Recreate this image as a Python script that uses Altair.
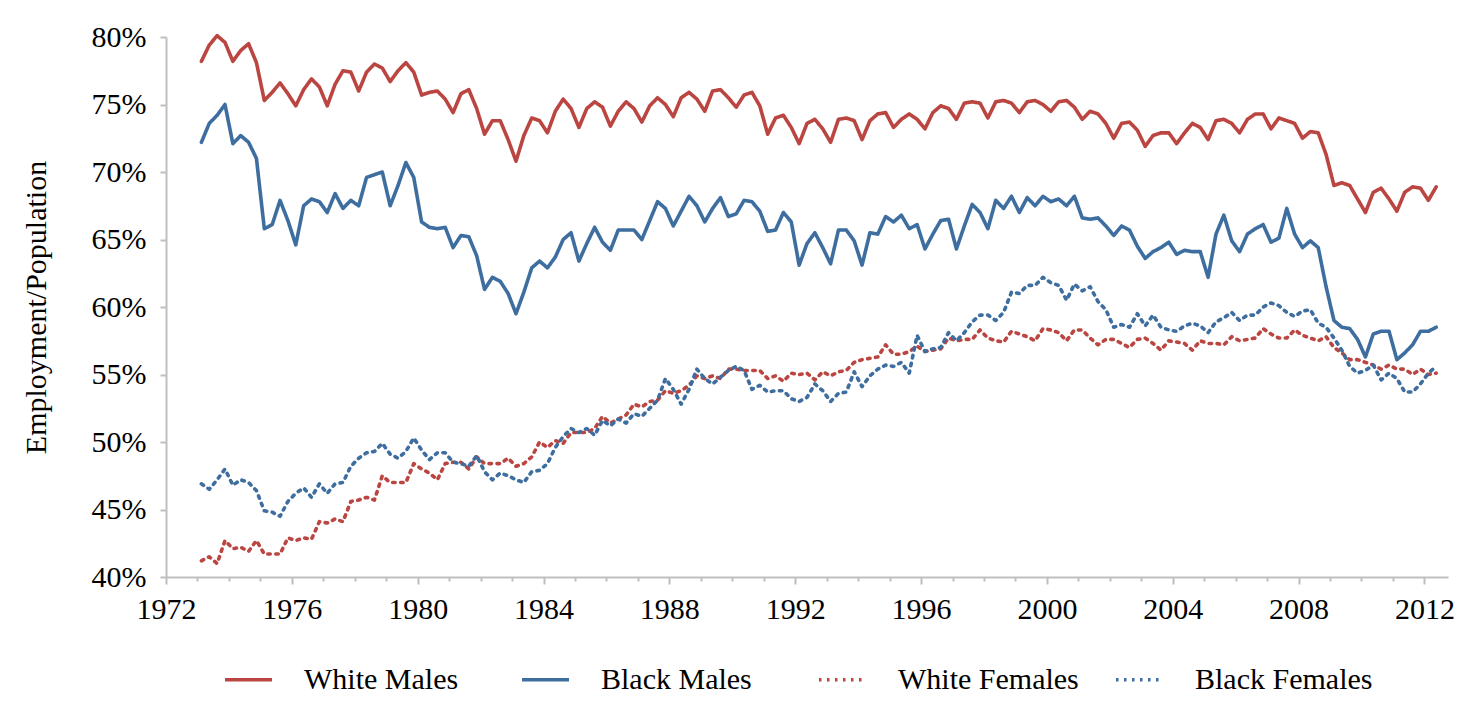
import altair as alt
import pandas as pd

START_YEAR = 1973  # first observation: 1973 Q1, quarterly through 2012 Q2

white_males = [
    78.2, 79.4, 80.1, 79.6, 78.2, 79.0, 79.5, 78.1, 75.3, 75.9,
    76.6, 75.8, 74.9, 76.1, 76.9, 76.3, 74.9, 76.5, 77.5, 77.4,
    76.0, 77.4, 78.0, 77.7, 76.7, 77.5, 78.1, 77.4, 75.7, 75.9,
    76.0, 75.4, 74.4, 75.8, 76.1, 74.7, 72.8, 73.8, 73.8, 72.4,
    70.8, 72.7, 74.0, 73.8, 72.9, 74.5, 75.4, 74.7, 73.3, 74.7,
    75.2, 74.8, 73.4, 74.5, 75.2, 74.7, 73.7, 74.9, 75.5, 75.0,
    74.1, 75.5, 75.9, 75.4, 74.5, 76.0, 76.1, 75.5, 74.8, 75.7,
    75.9, 74.9, 72.8, 74.0, 74.2, 73.3, 72.1, 73.6, 73.9, 73.2,
    72.2, 73.9, 74.0, 73.8, 72.4, 73.8, 74.3, 74.4, 73.3, 73.9,
    74.3, 73.9, 73.2, 74.4, 74.9, 74.7, 73.9, 75.1, 75.2, 75.1,
    74.0, 75.2, 75.3, 75.1, 74.4, 75.2, 75.3, 75.0, 74.5, 75.2,
    75.3, 74.8, 73.9, 74.5, 74.3, 73.6, 72.5, 73.6, 73.7, 73.1,
    71.9, 72.7, 72.9, 72.9, 72.1, 72.9, 73.6, 73.3, 72.4, 73.8,
    73.9, 73.6, 72.9, 73.9, 74.3, 74.3, 73.2, 74.0, 73.8, 73.6,
    72.5, 73.0, 72.9, 71.3, 69.0, 69.2, 69.0, 68.0, 67.0, 68.5,
    68.8, 68.0, 67.1, 68.5, 68.9, 68.8, 67.9, 68.9,
]

black_males = [
    72.2, 73.6, 74.2, 75.0, 72.1, 72.7, 72.2, 71.0, 65.8, 66.1,
    67.9, 66.4, 64.6, 67.5, 68.0, 67.8, 67.0, 68.4, 67.3, 67.9,
    67.5, 69.6, 69.8, 70.0, 67.5, 69.0, 70.7, 69.6, 66.3, 65.9,
    65.8, 65.9, 64.4, 65.3, 65.2, 63.8, 61.3, 62.2, 61.9, 61.0,
    59.5, 61.1, 62.9, 63.4, 62.9, 63.7, 65.0, 65.5, 63.4, 64.7,
    65.9, 64.8, 64.2, 65.7, 65.7, 65.7, 65.0, 66.4, 67.8, 67.3,
    66.0, 67.1, 68.2, 67.5, 66.3, 67.3, 68.1, 66.7, 66.9, 67.9,
    67.8, 67.1, 65.6, 65.7, 67.0, 66.3, 63.1, 64.7, 65.5, 64.4,
    63.2, 65.7, 65.7, 64.9, 63.1, 65.5, 65.4, 66.7, 66.3, 66.8,
    65.8, 66.1, 64.3, 65.4, 66.4, 66.5, 64.3, 66.0, 67.6, 67.0,
    65.8, 67.9, 67.3, 68.2, 67.0, 68.1, 67.5, 68.2, 67.8, 68.0,
    67.5, 68.2, 66.6, 66.5, 66.6, 66.0, 65.3, 66.0, 65.7, 64.5,
    63.6, 64.1, 64.4, 64.8, 63.9, 64.2, 64.1, 64.1, 62.2, 65.4,
    66.8, 64.9, 64.1, 65.4, 65.8, 66.1, 64.8, 65.1, 67.3, 65.4,
    64.4, 64.9, 64.4, 61.5, 59.0, 58.5, 58.4, 57.6, 56.3, 58.0,
    58.2, 58.2, 56.1, 56.6, 57.2, 58.2, 58.2, 58.5,
]

white_females = [
    41.2, 41.5, 41.0, 42.7, 42.1, 42.2, 41.9, 42.7, 41.7, 41.7,
    41.7, 42.9, 42.7, 42.9, 42.8, 44.1, 44.0, 44.3, 44.1, 45.6,
    45.7, 45.9, 45.7, 47.5, 47.0, 47.0, 47.0, 48.4, 48.0, 47.7,
    47.2, 48.4, 48.5, 48.5, 48.0, 48.9, 48.4, 48.4, 48.4, 48.8,
    48.2, 48.4, 48.9, 50.0, 49.6, 50.1, 49.9, 50.7, 50.7, 50.7,
    51.0, 51.9, 51.4, 51.7, 52.0, 52.8, 52.6, 53.0, 53.1, 53.8,
    53.6, 53.8, 54.2, 54.9, 54.7, 54.9, 54.7, 55.4, 55.4, 55.3,
    55.3, 55.3, 54.7, 54.9, 54.5, 55.1, 55.0, 55.1, 54.6, 55.2,
    54.9, 55.2, 55.3, 55.9, 56.1, 56.2, 56.3, 57.2, 56.5, 56.5,
    56.7, 57.1, 56.7, 56.8, 56.9, 57.7, 57.5, 57.6, 57.6, 58.3,
    57.7, 57.5, 57.4, 58.2, 58.0, 57.8, 57.5, 58.4, 58.3, 58.1,
    57.5, 58.3, 58.3, 57.7, 57.2, 57.6, 57.6, 57.3, 57.0, 57.6,
    57.7, 57.3, 56.8, 57.5, 57.4, 57.3, 56.8, 57.5, 57.3, 57.3,
    57.2, 57.8, 57.5, 57.6, 57.7, 58.4, 58.0, 57.7, 57.7, 58.3,
    57.9, 57.7, 57.5, 57.8, 57.0, 56.6, 56.1, 56.1, 55.9, 55.7,
    55.4, 55.7, 55.4, 55.4, 55.0, 55.4, 55.0, 55.1,
]

black_females = [
    46.9, 46.5, 47.2, 48.0, 46.8, 47.2, 47.0, 46.4, 44.9, 44.8,
    44.5, 45.6, 46.2, 46.6, 45.9, 46.9, 46.2, 46.9, 47.0, 48.2,
    48.8, 49.2, 49.3, 49.9, 49.1, 48.8, 49.3, 50.3, 49.4, 48.7,
    49.2, 49.2, 48.5, 48.4, 48.2, 49.0, 47.8, 47.2, 47.7, 47.5,
    47.2, 47.0, 47.8, 47.9, 48.4, 49.6, 50.4, 51.0, 50.7, 51.0,
    50.5, 51.6, 51.2, 51.7, 51.4, 52.1, 51.9, 52.5, 53.1, 54.7,
    53.9, 52.8, 53.9, 55.4, 54.7, 54.3, 54.8, 55.3, 55.6, 55.3,
    53.9, 54.2, 53.7, 53.8, 53.8, 53.2, 53.0, 53.3, 54.3, 53.8,
    53.0, 53.6, 53.7, 55.2, 54.1, 54.9, 55.4, 55.7, 55.6, 55.9,
    55.1, 57.9, 56.7, 56.9, 57.0, 58.1, 57.5, 58.1, 58.9, 59.4,
    59.4, 59.0, 59.6, 61.1, 61.0, 61.6, 61.6, 62.2, 61.8, 61.6,
    60.5, 61.7, 61.2, 61.5, 60.4, 59.8, 58.5, 58.7, 58.5, 59.5,
    58.6, 59.4, 58.5, 58.3, 58.2, 58.6, 58.8, 58.6, 58.1, 58.9,
    59.2, 59.6, 59.0, 59.4, 59.4, 60.0, 60.3, 60.1, 59.6, 59.3,
    59.7, 59.8, 58.8, 58.5, 57.7, 56.8, 55.6, 55.1, 55.3, 55.7,
    54.6, 55.1, 54.7, 53.7, 53.7, 54.3, 55.1, 55.6,
]

series_names = ["White Males", "Black Males", "White Females", "Black Females"]
series_values = [white_males, black_males, white_females, black_females]
series_colors = ["#BB4541", "#3E6E9F", "#BB4541", "#3E6E9F"]
series_dashes = [[1, 0], [1, 0], [2.5, 5.5], [2.5, 5.5]]

x_tick_years = list(range(1972, 2013))
y_tick_values = [40, 45, 50, 55, 60, 65, 70, 75, 80]

rows = []
for name, vals in zip(series_names, series_values):
    for i, v in enumerate(vals):
        year = START_YEAR + i // 4
        quarter = i % 4 + 1
        rows.append({"series": name, "t": year + (quarter - 0.5) / 4, "value": v})
df = pd.DataFrame(rows)

FONT = "Liberation Serif"
AXIS_GREY = "#BFBFBF"

legend = alt.Legend(
    title=None,
    orient="none",
    direction="horizontal",
    legendX=57,
    legendY=617,
    symbolType="stroke",
    symbolSize=2209,
    symbolStrokeWidth=3.5,
    labelFont=FONT,
    labelFontSize=30,
    labelColor="#000000",
    labelLimit=400,
    labelOffset=30,
    columnPadding=30,
    gridAlign="all",
    padding=0,
)

chart = (
    alt.Chart(df)
    .mark_line(strokeWidth=3.6, strokeCap="round", strokeJoin="round")
    .encode(
        x=alt.X(
            "t:Q",
            scale=alt.Scale(domain=[1972, 2012.75], nice=False, zero=False),
            axis=alt.Axis(
                values=x_tick_years,
                labelExpr="datum.value % 4 == 0 ? '' + datum.value : ''",
                tickSize={"condition": {"test": "datum.value % 4 == 0", "value": 7}, "value": 4},
                tickColor=AXIS_GREY,
                tickWidth=2,
                domainColor=AXIS_GREY,
                domainWidth=2,
                labelFont=FONT,
                labelFontSize=30,
                labelColor="#000000",
                labelPadding=10,
                labelFlush=False,
                labelOverlap=False,
                grid=False,
                title=None,
            ),
        ),
        y=alt.Y(
            "value:Q",
            scale=alt.Scale(domain=[40, 80], nice=False, zero=False),
            axis=alt.Axis(
                values=y_tick_values,
                labelExpr="datum.value + '%'",
                tickSize=6,
                tickColor=AXIS_GREY,
                tickWidth=2,
                domainColor=AXIS_GREY,
                domainWidth=2,
                labelFont=FONT,
                labelFontSize=30,
                labelColor="#000000",
                labelPadding=14,
                grid=False,
                title="Employment/Population",
                titleFont=FONT,
                titleFontSize=30,
                titleFontWeight="normal",
                titleColor="#000000",
                titlePadding=40,
            ),
        ),
        color=alt.Color(
            "series:N",
            scale=alt.Scale(domain=series_names, range=series_colors),
            legend=legend,
        ),
        strokeDash=alt.StrokeDash(
            "series:N",
            scale=alt.Scale(domain=series_names, range=series_dashes),
            legend=legend,
        ),
    )
    .properties(
        width=1282,
        height=540,
        padding={"left": 158, "top": 29, "right": 20, "bottom": 128},
        autosize=alt.AutoSizeParams(type="none"),
    )
    .configure_view(stroke=None)
)

chart.save("out.html", embed_options={"renderer": "svg", "actions": False})
